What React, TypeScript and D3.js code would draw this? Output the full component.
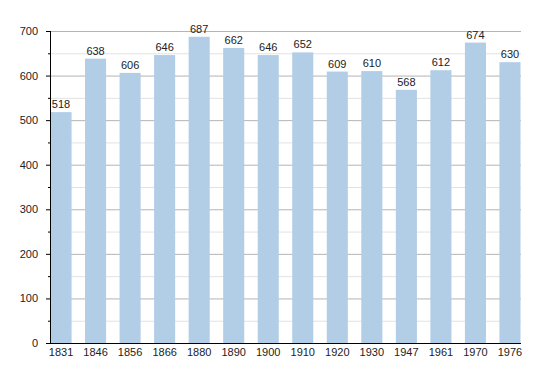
import * as d3 from "d3";

const YEARS = ["1831", "1846", "1856", "1866", "1880", "1890", "1900", "1910", "1920", "1930", "1947", "1961", "1970", "1976"];
const POPULATION = [518, 638, 606, 646, 687, 662, 646, 652, 609, 610, 568, 612, 674, 630];
const MAJOR_TICKS = [0, 100, 200, 300, 400, 500, 600, 700];
const MINOR_TICKS = [50, 150, 250, 350, 450, 550, 650];

const WIDTH = 550;
const HEIGHT = 373;
const LEFT = 50;
const RIGHT = 521;
const TOP = 31;
const BOTTOM = 343;
const BAR_COLOR = "#b2cde6";
const FONT = "'Liberation Sans', Arial, sans-serif";

export default function App() {
  const x = d3
    .scaleBand<string>()
    .domain(YEARS)
    .range([LEFT + 0.5, 520.5])
    .paddingInner(0.39)
    .paddingOuter(0)
    .align(0);

  const y = d3.scaleLinear().domain([0, 700]).range([BOTTOM, TOP]);

  return (
    <svg
      width={WIDTH}
      height={HEIGHT}
      style={{ position: "absolute", left: 0, top: 0, background: "#fff" }}
      fontFamily={FONT}
    >
      {MINOR_TICKS.map((t) => (
        <line key={"mg" + t} x1={LEFT} x2={RIGHT} y1={y(t) + 0.5} y2={y(t) + 0.5} stroke="#e2e2e2" />
      ))}
      {MAJOR_TICKS.filter((t) => t > 0).map((t) => (
        <line key={"g" + t} x1={LEFT} x2={RIGHT} y1={y(t) + 0.5} y2={y(t) + 0.5} stroke="#b4b4b4" />
      ))}

      {YEARS.map((yr, i) => (
        <rect
          key={yr}
          x={x(yr)!}
          y={y(POPULATION[i])}
          width={x.bandwidth()}
          height={BOTTOM - y(POPULATION[i])}
          fill={BAR_COLOR}
        />
      ))}

      {YEARS.map((yr, i) => (
        <text
          key={"v" + yr}
          x={x(yr)! + x.bandwidth() / 2}
          y={y(POPULATION[i]) - 4}
          textAnchor="middle"
          fontSize={11}
          fill="#222"
        >
          {POPULATION[i]}
        </text>
      ))}

      {/* axes */}
      <line x1={LEFT + 0.5} x2={LEFT + 0.5} y1={TOP} y2={BOTTOM + 1} stroke="#000" />
      <line x1={LEFT} x2={RIGHT} y1={BOTTOM + 0.5} y2={BOTTOM + 0.5} stroke="#000" />
      {MAJOR_TICKS.map((t) => (
        <g key={"t" + t}>
          <line x1={LEFT - 4} x2={LEFT} y1={y(t) + 0.5} y2={y(t) + 0.5} stroke="#000" />
          <text x={38} y={y(t) + 4} textAnchor="end" fontSize={11} fill="#222">
            {t}
          </text>
        </g>
      ))}
      {MINOR_TICKS.map((t) => (
        <line key={"mt" + t} x1={LEFT - 2} x2={LEFT} y1={y(t) + 0.5} y2={y(t) + 0.5} stroke="#000" />
      ))}
      {YEARS.map((yr) => (
        <text
          key={"x" + yr}
          x={x(yr)! + x.bandwidth() / 2}
          y={356}
          textAnchor="middle"
          fontSize={11}
          fill="#222"
        >
          {yr}
        </text>
      ))}
    </svg>
  );
}
